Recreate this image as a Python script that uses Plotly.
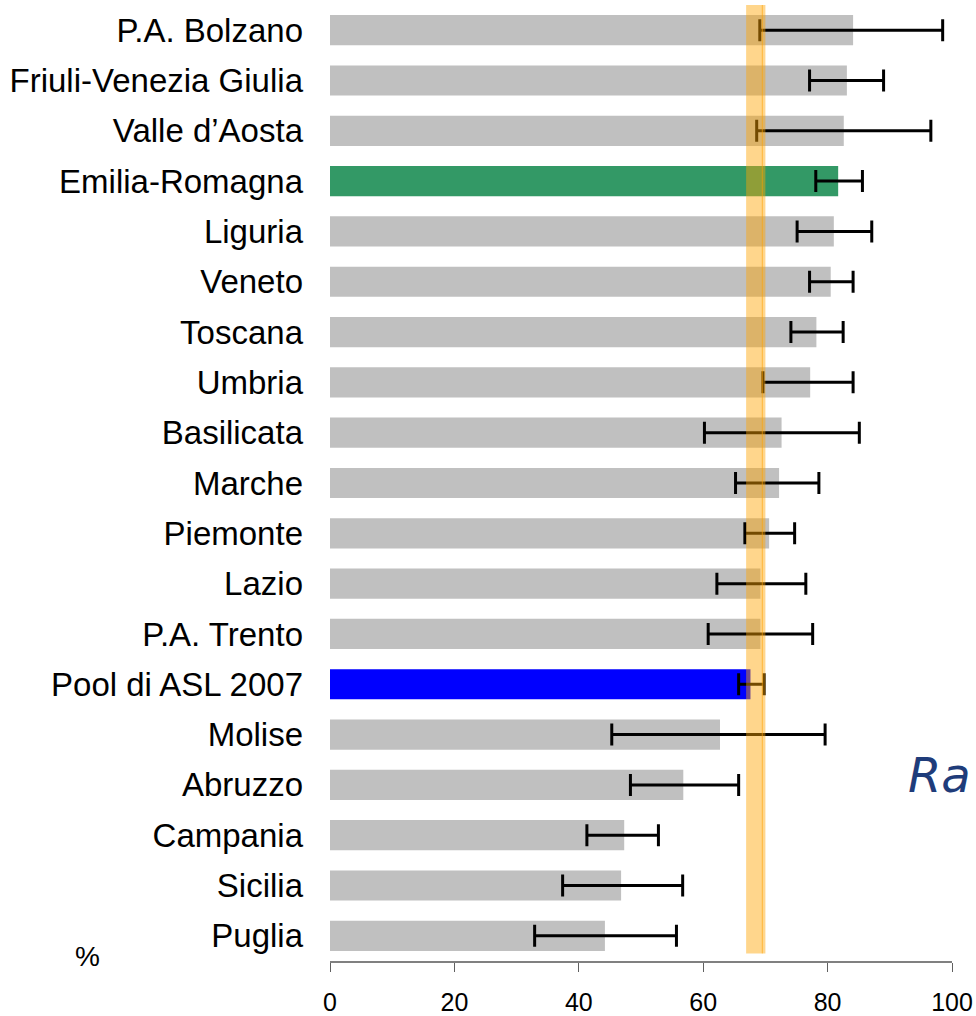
import plotly.graph_objects as go

regions = ["P.A. Bolzano", "Friuli-Venezia Giulia", "Valle d\u2019Aosta", "Emilia-Romagna",
           "Liguria", "Veneto", "Toscana", "Umbria", "Basilicata", "Marche", "Piemonte",
           "Lazio", "P.A. Trento", "Pool di ASL 2007", "Molise", "Abruzzo", "Campania",
           "Sicilia", "Puglia"]
values = [84.1, 83.1, 82.6, 81.7, 81.0, 80.5, 78.2, 77.2, 72.6, 72.2, 70.6,
          69.2, 69.2, 67.6, 62.7, 56.8, 47.3, 46.8, 44.2]
ci_low = [69.1, 77.1, 68.6, 78.1, 75.1, 77.1, 74.1, 69.6, 60.2, 65.2, 66.7,
          62.2, 60.8, 65.7, 45.3, 48.3, 41.3, 37.4, 32.9]
ci_high = [98.5, 89.0, 96.6, 85.6, 87.1, 84.1, 82.5, 84.1, 85.1, 78.6, 74.7,
           76.5, 77.6, 69.8, 79.6, 65.7, 52.8, 56.7, 55.7]
pool_band = [66.9, 70.0]
x_ticks = [0, 20, 40, 60, 80, 100]

colors = []
for r in regions:
    if r == "Emilia-Romagna":
        colors.append("#339966")
    elif r.startswith("Pool"):
        colors.append("#0000FF")
    else:
        colors.append("#C0C0C0")

err_plus = [h - v for h, v in zip(ci_high, values)]
err_minus = [v - l for v, l in zip(values, ci_low)]

fig = go.Figure()
fig.add_trace(go.Bar(
    x=values, y=regions, orientation="h",
    marker=dict(color=colors, line=dict(width=0)),
    error_x=dict(type="data", symmetric=False, array=err_plus, arrayminus=err_minus,
                 color="black", thickness=3, width=11),
    hoverinfo="x+y",
))

fig.add_shape(type="rect", xref="x", yref="y", x0=pool_band[0], x1=pool_band[1],
              y0=-0.5, y1=18.35, fillcolor="rgba(255,165,0,0.45)", line=dict(width=0),
              layer="above")
fig.add_shape(type="line", xref="x", yref="y", x0=69.5, x1=69.5,
              y0=-0.5, y1=18.35, line=dict(color="rgba(255,160,0,0.6)", width=1),
              layer="above")

fig.add_annotation(text="%", xref="paper", yref="paper", x=-0.39, y=0.005,
                   showarrow=False, font=dict(family="Liberation Sans", size=28, color="black"),
                   xanchor="center", yanchor="middle")
fig.add_annotation(text="<i>Ra</i>", xref="paper", yref="paper", x=0.926, y=0.195,
                   showarrow=False, font=dict(family="DejaVu Sans", size=48, color="#1F3C7A"),
                   xanchor="left", yanchor="middle")

fig.update_layout(
    width=976, height=1016,
    margin=dict(l=330, r=24, t=5, b=55, autoexpand=False),
    paper_bgcolor="white", plot_bgcolor="white",
    bargap=0.4, showlegend=False,
    font=dict(family="Liberation Sans", color="black"),
)
fig.update_xaxes(range=[0, 100], tickvals=x_ticks, showgrid=False, zeroline=False,
                 showline=True, linecolor="#808080", linewidth=1.5,
                 ticks="outside", ticklen=9, tickcolor="#606060", tickwidth=1.2,
                 tickfont=dict(family="Liberation Sans", size=25, color="black"),
                 ticklabelstandoff=9)
fig.update_yaxes(categoryorder="array", categoryarray=regions, range=[18.5, -0.5],
                 showgrid=False, zeroline=False, showline=False, ticks="",
                 tickfont=dict(family="Liberation Sans", size=33, color="black"),
                 ticklabelstandoff=26)

fig.write_html("out.html", config={"displayModeBar": False},
               post_script="document.body.style.margin='0';document.body.style.overflow='hidden';")
